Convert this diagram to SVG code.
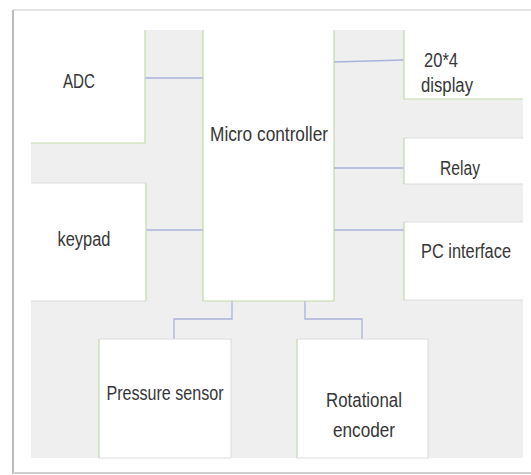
<svg xmlns="http://www.w3.org/2000/svg" width="531" height="475" viewBox="0 0 531 475">
<style>
.bg{fill:#efefef}
.box{fill:#ffffff}
.g{stroke:#c2d9ad;stroke-width:1.2;fill:none}
.s{stroke:#dcdcdc;stroke-width:1;fill:none}
.c{stroke:#aab3da;stroke-width:1.3;fill:none}
text{font-family:"Liberation Sans",Arial,sans-serif;font-size:20px;fill:#363636;text-anchor:middle}
</style>
<rect x="0" y="0" width="531" height="475" fill="#ffffff"/>
<g id="page">
<line x1="13" y1="10" x2="531" y2="10" stroke="#e4e4e4" stroke-width="2"/>
<line x1="13" y1="10" x2="13" y2="474" stroke="#bdbdbd" stroke-width="2"/>
<line x1="13" y1="473" x2="531" y2="473" stroke="#cfcfcf" stroke-width="2"/>
<rect class="bg" x="31" y="30" width="492" height="428"/>
</g>
<g id="connectors">
<line class="c" x1="145" y1="78" x2="203" y2="78"/>
<line class="c" x1="145" y1="230" x2="203" y2="230"/>
<line class="c" x1="334" y1="62" x2="404" y2="60"/>
<line class="c" x1="334" y1="168" x2="404" y2="168"/>
<line class="c" x1="334" y1="230" x2="404" y2="230"/>
<polyline class="c" points="232,301 232,319 174,319 174,339"/>
<polyline class="c" points="305,301 305,319 362,319 362,339"/>
</g>
<g id="adc">
<rect class="box" x="31" y="30" width="114" height="113"/>
<path class="g" d="M145,30 V143 H31"/>
<text x="79" y="88" textLength="32" lengthAdjust="spacingAndGlyphs">ADC</text>
</g>
<g id="keypad">
<rect class="box" x="31" y="183" width="115" height="118"/>
<path class="s" d="M31,183 H146 M31,301 H146"/>
<path class="g" d="M146,183 V301"/>
<text x="84" y="246" textLength="53" lengthAdjust="spacingAndGlyphs">keypad</text>
</g>
<g id="microcontroller">
<rect class="box" x="203" y="30" width="131" height="271"/>
<path class="g" d="M203,30 V301 H334 V30"/>
<text x="269" y="141" textLength="118" lengthAdjust="spacingAndGlyphs">Micro controller</text>
</g>
<g id="display">
<rect class="box" x="404" y="30" width="119" height="69"/>
<path class="g" d="M404,30 V99 H523"/>
<text x="441" y="67" textLength="34" lengthAdjust="spacingAndGlyphs">20*4</text>
<text x="447" y="92" textLength="52" lengthAdjust="spacingAndGlyphs">display</text>
</g>
<g id="relay">
<rect class="box" x="404" y="138" width="119" height="46"/>
<path class="s" d="M404,138 H523 M404,184 H523"/>
<path class="g" d="M404,138 V184"/>
<text x="460" y="175" textLength="40" lengthAdjust="spacingAndGlyphs">Relay</text>
</g>
<g id="pcinterface">
<rect class="box" x="404" y="222" width="119" height="78"/>
<path class="s" d="M404,222 H523 M404,300 H523"/>
<path class="g" d="M404,222 V300"/>
<text x="466" y="258" textLength="90" lengthAdjust="spacingAndGlyphs">PC interface</text>
</g>
<g id="pressuresensor">
<rect class="box" x="99" y="339" width="132" height="119"/>
<path class="s" d="M99,339 H231 V458 H99"/>
<path class="g" d="M99,339 V458"/>
<text x="165" y="400" textLength="117" lengthAdjust="spacingAndGlyphs">Pressure sensor</text>
</g>
<g id="rotationalencoder">
<rect class="box" x="297" y="339" width="131" height="119"/>
<path class="s" d="M297,339 H428 V458 H297"/>
<path class="g" d="M297,339 V458"/>
<text x="364" y="407" textLength="76" lengthAdjust="spacingAndGlyphs">Rotational</text>
<text x="364" y="437" textLength="62" lengthAdjust="spacingAndGlyphs">encoder</text>
</g>
</svg>
